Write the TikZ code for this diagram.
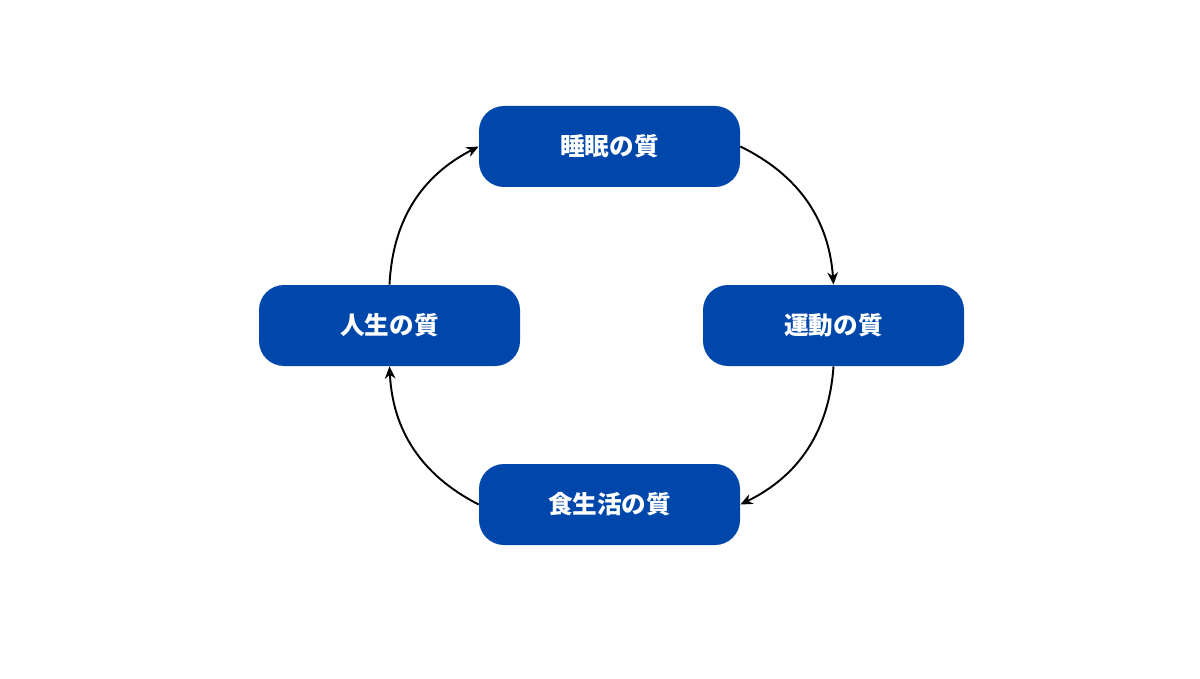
\documentclass[tikz,border=0pt]{standalone}
\usepackage{fontspec}
\newfontfamily\cjk{Noto Sans CJK JP}
\usetikzlibrary{arrows.meta}
\definecolor{qblue}{HTML}{0047AB}
\begin{document}
\begin{tikzpicture}[
    box/.style={fill=qblue, rounded corners=0.5cm, minimum width=5.22cm, minimum height=1.62cm,
                text=white, font=\cjk\bfseries\fontsize{14}{16}\selectfont},
    flow/.style={-{Stealth[length=7pt,width=6pt]}, line width=1.1pt, bend left=30}]
    \useasboundingbox (0,0) rectangle (24,13.56);

    \node[box] (sleep) at (12.19,10.63) {睡眠の質};
    \node[box] (move) at (16.67,7.05) {運動の質};
    \node[box] (food) at (12.19,3.47) {食生活の質};
    \node[box] (life) at (7.79,7.05) {人生の質};

    \draw[flow] (sleep.east) to (move.north);
    \draw[flow] (move.south) to (food.east);
    \draw[flow] (food.west) to (life.south);
    \draw[flow] (life.north) to (sleep.west);
\end{tikzpicture}
\end{document}
